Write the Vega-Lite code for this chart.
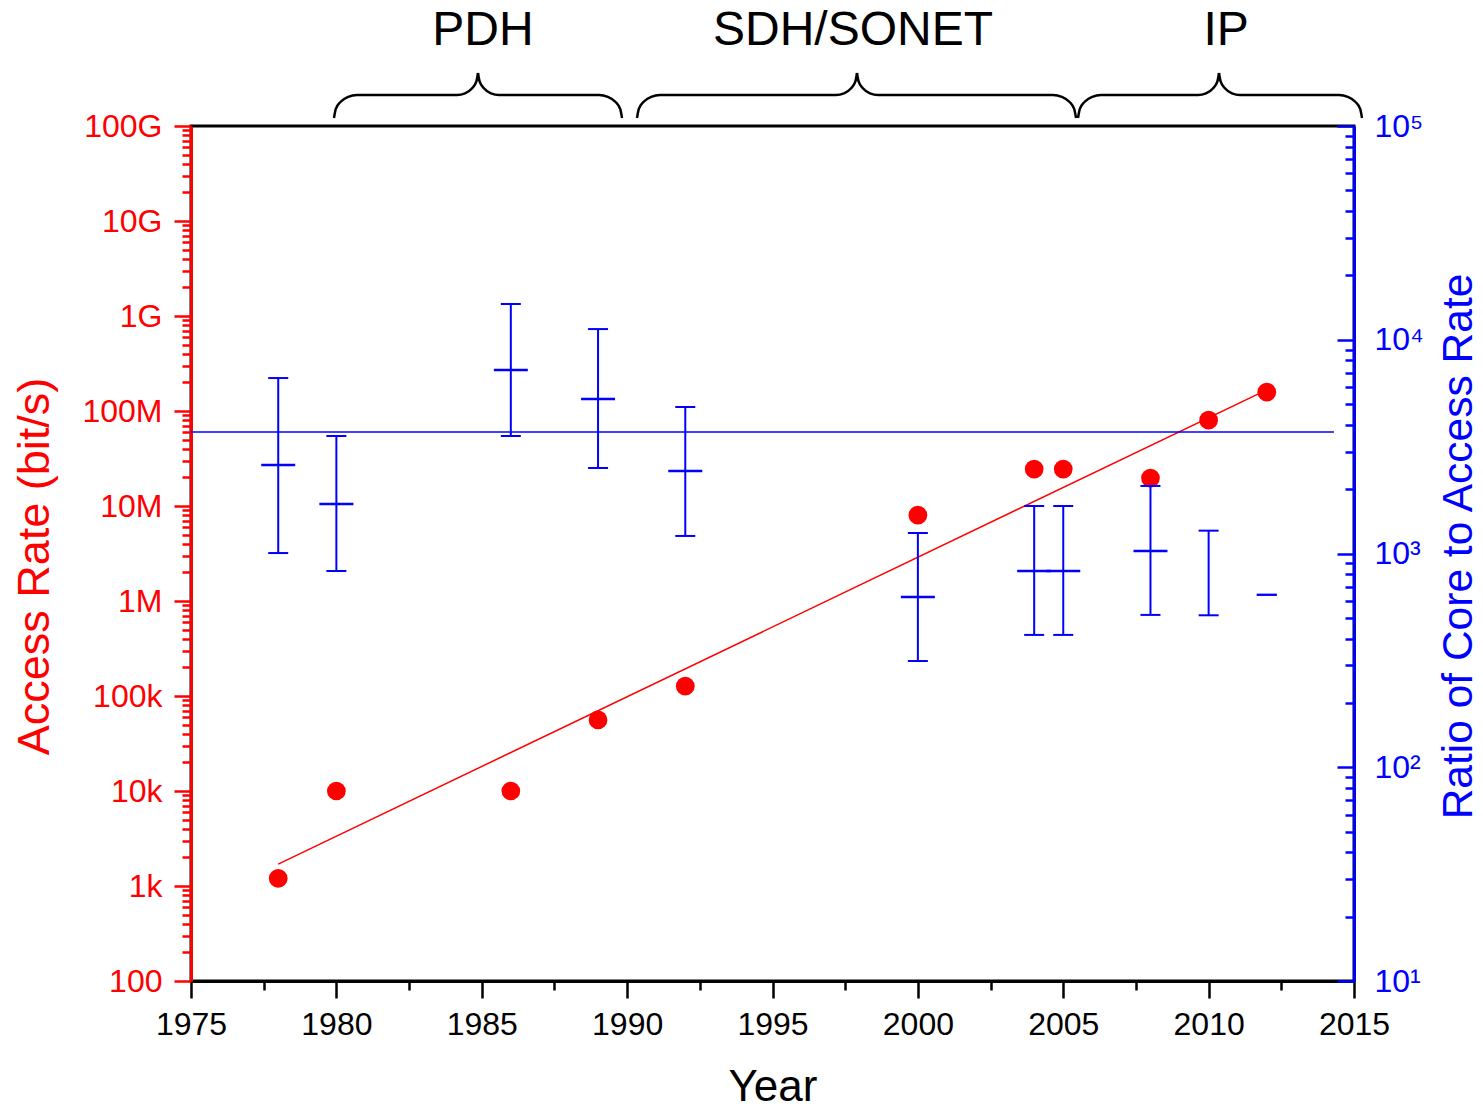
{
  "$schema": "https://vega.github.io/schema/vega-lite/v6.json",
  "background": "white",
  "padding": {"left": 11, "top": 7, "right": 5, "bottom": 0},
  "bounds": "flush",
  "spacing": 0,
  "config": {
    "font": "Liberation Sans",
    "view": {"stroke": "black", "strokeWidth": 3},
    "axis": {
      "labelFont": "Liberation Sans",
      "titleFont": "Liberation Sans",
      "titleFontWeight": "normal",
      "labelFontSize": 32,
      "titleFontSize": 44,
      "grid": false,
      "domainWidth": 3,
      "tickWidth": 2.5,
      "labelOverlap": false,
      "labelFlush": false,
      "labelBound": false
    }
  },
  "datasets": {
    "access": [
      {"year": 1978, "rate": 1200},
      {"year": 1980, "rate": 10000},
      {"year": 1986, "rate": 10000},
      {"year": 1989, "rate": 56000},
      {"year": 1992, "rate": 127000},
      {"year": 2000, "rate": 8000000},
      {"year": 2004, "rate": 24500000},
      {"year": 2005, "rate": 24500000},
      {"year": 2008, "rate": 19700000},
      {"year": 2010, "rate": 80000000},
      {"year": 2012, "rate": 158000000}
    ],
    "fit": [
      {"year": 1978, "rate": 1700},
      {"year": 2012, "rate": 167000000}
    ],
    "ratio": [
      {"year": 1978, "mean": 2595, "lo": 1005, "hi": 6620},
      {"year": 1980, "mean": 1706, "lo": 828, "hi": 3546},
      {"year": 1986, "mean": 7216, "lo": 3546, "hi": 14700},
      {"year": 1989, "mean": 5283, "lo": 2512, "hi": 11220},
      {"year": 1992, "mean": 2432, "lo": 1208, "hi": 4846},
      {"year": 2000, "mean": 626, "lo": 314, "hi": 1247},
      {"year": 2004, "mean": 828, "lo": 416, "hi": 1668},
      {"year": 2005, "mean": 828, "lo": 416, "hi": 1668},
      {"year": 2008, "mean": 1028, "lo": 516, "hi": 2070},
      {"year": 2010, "mean": null, "lo": 514, "hi": 1279},
      {"year": 2012, "mean": null, "lo": 641, "hi": 641}
    ],
    "avg": [
      {"start": 1975, "end": 2014.31, "ratio": 3700}
    ],
    "braces": [
      {"part": "PDH-L", "year": 1979.918, "v": 0.070},
      {"part": "PDH-L", "year": 1979.978, "v": 0.146},
      {"part": "PDH-L", "year": 1980.150, "v": 0.211},
      {"part": "PDH-L", "year": 1980.406, "v": 0.254},
      {"part": "PDH-L", "year": 1980.709, "v": 0.270},
      {"part": "PDH-L", "year": 1984.149, "v": 0.270},
      {"part": "PDH-L", "year": 1984.425, "v": 0.284},
      {"part": "PDH-L", "year": 1984.660, "v": 0.326},
      {"part": "PDH-L", "year": 1984.816, "v": 0.388},
      {"part": "PDH-L", "year": 1984.871, "v": 0.461},
      {"part": "PDH-R", "year": 1984.871, "v": 0.461},
      {"part": "PDH-R", "year": 1984.926, "v": 0.388},
      {"part": "PDH-R", "year": 1985.083, "v": 0.326},
      {"part": "PDH-R", "year": 1985.317, "v": 0.284},
      {"part": "PDH-R", "year": 1985.593, "v": 0.270},
      {"part": "PDH-R", "year": 1989.033, "v": 0.270},
      {"part": "PDH-R", "year": 1989.336, "v": 0.254},
      {"part": "PDH-R", "year": 1989.592, "v": 0.211},
      {"part": "PDH-R", "year": 1989.764, "v": 0.146},
      {"part": "PDH-R", "year": 1989.824, "v": 0.070},
      {"part": "SDH-L", "year": 1990.340, "v": 0.070},
      {"part": "SDH-L", "year": 1990.400, "v": 0.146},
      {"part": "SDH-L", "year": 1990.572, "v": 0.211},
      {"part": "SDH-L", "year": 1990.828, "v": 0.254},
      {"part": "SDH-L", "year": 1991.131, "v": 0.270},
      {"part": "SDH-L", "year": 1997.184, "v": 0.270},
      {"part": "SDH-L", "year": 1997.460, "v": 0.284},
      {"part": "SDH-L", "year": 1997.695, "v": 0.326},
      {"part": "SDH-L", "year": 1997.851, "v": 0.388},
      {"part": "SDH-L", "year": 1997.906, "v": 0.461},
      {"part": "SDH-R", "year": 1997.906, "v": 0.461},
      {"part": "SDH-R", "year": 1997.961, "v": 0.388},
      {"part": "SDH-R", "year": 1998.118, "v": 0.326},
      {"part": "SDH-R", "year": 1998.352, "v": 0.284},
      {"part": "SDH-R", "year": 1998.628, "v": 0.270},
      {"part": "SDH-R", "year": 2004.648, "v": 0.270},
      {"part": "SDH-R", "year": 2004.951, "v": 0.254},
      {"part": "SDH-R", "year": 2005.207, "v": 0.211},
      {"part": "SDH-R", "year": 2005.379, "v": 0.146},
      {"part": "SDH-R", "year": 2005.439, "v": 0.070},
      {"part": "IP-L", "year": 2005.508, "v": 0.070},
      {"part": "IP-L", "year": 2005.568, "v": 0.146},
      {"part": "IP-L", "year": 2005.740, "v": 0.211},
      {"part": "IP-L", "year": 2005.996, "v": 0.254},
      {"part": "IP-L", "year": 2006.299, "v": 0.270},
      {"part": "IP-L", "year": 2009.635, "v": 0.270},
      {"part": "IP-L", "year": 2009.911, "v": 0.284},
      {"part": "IP-L", "year": 2010.146, "v": 0.326},
      {"part": "IP-L", "year": 2010.302, "v": 0.388},
      {"part": "IP-L", "year": 2010.357, "v": 0.461},
      {"part": "IP-R", "year": 2010.357, "v": 0.461},
      {"part": "IP-R", "year": 2010.412, "v": 0.388},
      {"part": "IP-R", "year": 2010.569, "v": 0.326},
      {"part": "IP-R", "year": 2010.803, "v": 0.284},
      {"part": "IP-R", "year": 2011.079, "v": 0.270},
      {"part": "IP-R", "year": 2014.484, "v": 0.270},
      {"part": "IP-R", "year": 2014.787, "v": 0.254},
      {"part": "IP-R", "year": 2015.043, "v": 0.211},
      {"part": "IP-R", "year": 2015.215, "v": 0.146},
      {"part": "IP-R", "year": 2015.275, "v": 0.070}
    ],
    "eras": [
      {"label": "PDH", "year": 1985.04, "v": 0.826},
      {"label": "SDH/SONET", "year": 1997.77, "v": 0.826},
      {"label": "IP", "year": 2010.6, "v": 0.826}
    ]
  },
  "vconcat": [
    {
      "width": 1163,
      "height": 115,
      "view": {"stroke": null},
      "layer": [
        {
          "data": {"name": "braces"},
          "mark": {"type": "line", "color": "black", "strokeWidth": 2.5, "interpolate": "monotone"},
          "encoding": {
            "x": {"field": "year", "type": "quantitative", "scale": {"domain": [1975, 2015], "nice": false, "zero": false}, "axis": null},
            "y": {"field": "v", "type": "quantitative", "scale": {"domain": [0, 1], "nice": false, "zero": false}, "axis": null},
            "detail": {"field": "part"}
          }
        },
        {
          "data": {"name": "eras"},
          "mark": {"type": "text", "fontSize": 48, "font": "Liberation Sans", "color": "black", "align": "center", "baseline": "middle"},
          "encoding": {
            "x": {"field": "year", "type": "quantitative", "scale": {"domain": [1975, 2015], "nice": false, "zero": false}, "axis": null},
            "y": {"field": "v", "type": "quantitative", "scale": {"domain": [0, 1], "nice": false, "zero": false}, "axis": null},
            "text": {"field": "label"}
          }
        }
      ]
    },
    {
      "width": 1163,
      "height": 855,
      "layer": [
        {
          "layer": [
            {
              "data": {"name": "access"},
              "mark": {"type": "circle", "size": 350, "color": "#ff0000", "opacity": 1},
              "encoding": {
                "x": {
                  "field": "year", "type": "quantitative",
                  "scale": {"domain": [1975, 2015], "nice": false, "zero": false},
                  "axis": {
                    "title": "Year",
                    "orient": "bottom",
                    "values": [1975, 1977.5, 1980, 1982.5, 1985, 1987.5, 1990, 1992.5, 1995, 1997.5, 2000, 2002.5, 2005, 2007.5, 2010, 2012.5, 2015],
                    "format": "d",
                    "labelExpr": "datum.value % 5 == 0 ? datum.label : ''",
                    "tickSize": {"condition": {"test": "datum.value % 5 == 0", "value": 17}, "value": 9},
                    "labelPadding": 11,
                    "titlePadding": 25,
                    "titleFontSize": 44,
                    "domainColor": "black",
                    "tickColor": "black",
                    "labelColor": "black",
                    "titleColor": "black"
                  }
                },
                "y": {
                  "field": "rate", "type": "quantitative",
                  "scale": {"type": "log", "domain": [100, 100000000000], "nice": false},
                  "axis": {
                    "title": "Access Rate (bit/s)",
                    "orient": "left",
                    "values": [100, 200, 300, 400, 500, 600, 700, 800, 900,
                      1e3, 2e3, 3e3, 4e3, 5e3, 6e3, 7e3, 8e3, 9e3,
                      1e4, 2e4, 3e4, 4e4, 5e4, 6e4, 7e4, 8e4, 9e4,
                      1e5, 2e5, 3e5, 4e5, 5e5, 6e5, 7e5, 8e5, 9e5,
                      1e6, 2e6, 3e6, 4e6, 5e6, 6e6, 7e6, 8e6, 9e6,
                      1e7, 2e7, 3e7, 4e7, 5e7, 6e7, 7e7, 8e7, 9e7,
                      1e8, 2e8, 3e8, 4e8, 5e8, 6e8, 7e8, 8e8, 9e8,
                      1e9, 2e9, 3e9, 4e9, 5e9, 6e9, 7e9, 8e9, 9e9,
                      1e10, 2e10, 3e10, 4e10, 5e10, 6e10, 7e10, 8e10, 9e10, 1e11],
                    "format": "~s",
                    "labelExpr": "abs(log(datum.value)/LN10 - round(log(datum.value)/LN10)) < 0.001 ? datum.label : ''",
                    "tickSize": {"condition": {"test": "abs(log(datum.value)/LN10 - round(log(datum.value)/LN10)) < 0.001", "value": 17}, "value": 9},
                    "labelPadding": 12,
                    "titlePadding": 24,
                    "titleFontSize": 45,
                    "titleY": 440,
                    "domainColor": "#ff0000",
                    "tickColor": "#ff0000",
                    "labelColor": "#ff0000",
                    "titleColor": "#ff0000"
                  }
                }
              }
            },
            {
              "data": {"name": "fit"},
              "mark": {"type": "line", "color": "#ff0000", "strokeWidth": 1.5},
              "encoding": {
                "x": {"field": "year", "type": "quantitative", "scale": {"domain": [1975, 2015], "nice": false, "zero": false}},
                "y": {"field": "rate", "type": "quantitative", "scale": {"type": "log", "domain": [100, 100000000000], "nice": false}}
              }
            }
          ]
        },
        {
          "layer": [
            {
              "data": {"name": "avg"},
              "mark": {"type": "rule", "color": "#0000ff", "strokeWidth": 1.5},
              "encoding": {
                "x": {"field": "start", "type": "quantitative", "scale": {"domain": [1975, 2015], "nice": false, "zero": false}},
                "x2": {"field": "end"},
                "y": {
                  "field": "ratio", "type": "quantitative",
                  "scale": {"type": "log", "domain": [10, 100000], "nice": false},
                  "axis": {
                    "title": "Ratio of Core to Access Rate",
                    "orient": "right",
                    "values": [10, 20, 30, 40, 50, 60, 70, 80, 90,
                      100, 200, 300, 400, 500, 600, 700, 800, 900,
                      1000, 2000, 3000, 4000, 5000, 6000, 7000, 8000, 9000,
                      10000, 20000, 30000, 40000, 50000, 60000, 70000, 80000, 90000, 100000],
                    "labelExpr": "abs(log(datum.value)/LN10 - round(log(datum.value)/LN10)) < 0.001 ? '10' + ['⁰','¹','²','³','⁴','⁵'][round(log(datum.value)/LN10)] : ''",
                    "tickSize": {"condition": {"test": "abs(log(datum.value)/LN10 - round(log(datum.value)/LN10)) < 0.001", "value": -17}, "value": -9},
                    "labelPadding": 37,
                    "titlePadding": 14,
                    "titleFontSize": 42.5,
                    "titleAngle": 270,
                    "titleBaseline": "top",
                    "titleY": 420,
                    "domainColor": "#0000ff",
                    "tickColor": "#0000ff",
                    "labelColor": "#0000ff",
                    "titleColor": "#0000ff"
                  }
                }
              }
            },
            {
              "data": {"name": "ratio"},
              "mark": {"type": "rule", "color": "#0000ff", "strokeWidth": 2},
              "encoding": {
                "x": {"field": "year", "type": "quantitative", "scale": {"domain": [1975, 2015], "nice": false, "zero": false}},
                "y": {"field": "lo", "type": "quantitative", "scale": {"type": "log", "domain": [10, 100000], "nice": false}},
                "y2": {"field": "hi"}
              }
            },
            {
              "data": {"name": "ratio"},
              "mark": {"type": "tick", "orient": "horizontal", "size": 20, "thickness": 2, "color": "#0000ff", "opacity": 1},
              "encoding": {
                "x": {"field": "year", "type": "quantitative", "scale": {"domain": [1975, 2015], "nice": false, "zero": false}},
                "y": {"field": "lo", "type": "quantitative", "scale": {"type": "log", "domain": [10, 100000], "nice": false}}
              }
            },
            {
              "data": {"name": "ratio"},
              "mark": {"type": "tick", "orient": "horizontal", "size": 20, "thickness": 2, "color": "#0000ff", "opacity": 1},
              "encoding": {
                "x": {"field": "year", "type": "quantitative", "scale": {"domain": [1975, 2015], "nice": false, "zero": false}},
                "y": {"field": "hi", "type": "quantitative", "scale": {"type": "log", "domain": [10, 100000], "nice": false}}
              }
            },
            {
              "data": {"name": "ratio"},
              "mark": {"type": "tick", "orient": "horizontal", "size": 34, "thickness": 2.5, "color": "#0000ff", "opacity": 1},
              "encoding": {
                "x": {"field": "year", "type": "quantitative", "scale": {"domain": [1975, 2015], "nice": false, "zero": false}},
                "y": {"field": "mean", "type": "quantitative", "scale": {"type": "log", "domain": [10, 100000], "nice": false}}
              }
            }
          ]
        }
      ],
      "resolve": {"scale": {"y": "independent"}}
    }
  ]
}
